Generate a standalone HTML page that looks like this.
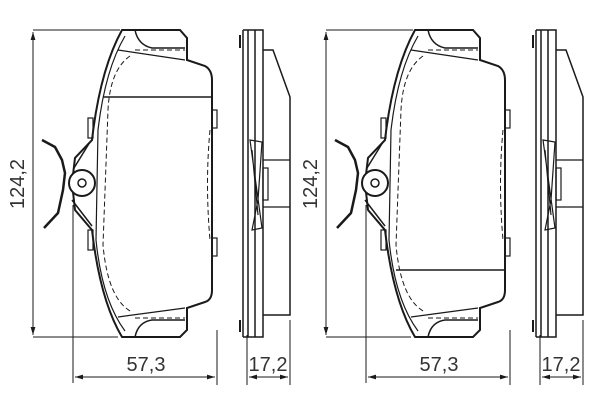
<!DOCTYPE html>
<html><head><style>html,body{margin:0;padding:0;background:#fff;}svg{display:block}</style></head>
<body>
<svg width="600" height="400" viewBox="0 0 600 400" xmlns="http://www.w3.org/2000/svg" fill="none" stroke="#1a1a1a" font-family="Liberation Sans, sans-serif">
<defs>
<marker id="a" viewBox="0 0 10 10" refX="10" refY="5" markerWidth="8" markerHeight="8" orient="auto-start-reverse"><path d="M0,2 L10,5 L0,8z" fill="#1a1a1a" stroke="none"/></marker>
</defs>
<g>
<line x1="33" y1="30" x2="120" y2="30" stroke-width="1"/>
<line x1="33" y1="337" x2="118" y2="337" stroke-width="1"/>
<line x1="33" y1="32" x2="33" y2="335" stroke-width="1" marker-start="url(#a)" marker-end="url(#a)"/>
<text x="0" y="0" transform="translate(24,184) rotate(-90)" text-anchor="middle" font-size="20" fill="#333" stroke="none">124,2</text>
<line x1="73" y1="205" x2="73" y2="383" stroke-width="1"/>
<line x1="217" y1="330" x2="217" y2="385" stroke-width="1"/>
<line x1="75" y1="377" x2="215" y2="377" stroke-width="1" marker-start="url(#a)" marker-end="url(#a)"/>
<text x="146" y="371" text-anchor="middle" font-size="20" fill="#333" stroke="none">57,3</text>
<path d="M122,30 L180,30 L187,38 L187,60 L205,66 Q212,70 212,80 L212,290 Q212,300 205,302 L187,308 L187,330 L180,337 L122,337 Q100,300 92,230 L75,210 L72,183 L75,158 L92,140 Q100,70 122,30Z" stroke-width="2"/>
<path d="M125,36 Q105,70 98,130 L96,240 Q102,300 125,331" stroke-width="1.2"/>
<path d="M118,50 L185,60 M118,317 L185,308" stroke-width="1.2"/>
<path d="M135,30 Q138,45 152,48 L185,48 M135,337 Q138,322 152,320 L185,320" stroke-width="1.5"/>
<path d="M135,50 L185,50 M135,318 L185,318 M130,56 Q110,70 108,110 L103,245 Q108,300 132,312" stroke-width="1" stroke-dasharray="5,3"/>
<line x1="103" y1="97" x2="212" y2="97" stroke-width="1.5"/>
<path d="M210,130 Q205,183 210,240" stroke-width="1" stroke-dasharray="5,3"/>
<rect x="88" y="118" width="5" height="20" stroke-width="1.2"/>
<rect x="88" y="230" width="5" height="20" stroke-width="1.2"/>
<rect x="212" y="110" width="5" height="18" stroke-width="1.2"/>
<rect x="212" y="238" width="5" height="18" stroke-width="1.2"/>
<path d="M90,142 L74,168 M72,200 L92,226" stroke-width="1.5"/>
<circle cx="82" cy="183" r="13" stroke-width="2" fill="#fff"/>
<circle cx="82" cy="183" r="4" stroke-width="1.5"/>
<path d="M42,140 L55,147 L62,160 L65,173 L63,190 L58,213 L44,228" stroke-width="2.5" stroke-linejoin="round"/>
<path d="M243,30 L243,337 M248,30 L248,337 M255,30 L255,337" stroke-width="1.5"/>
<path d="M240,35 L240,48 M240,320 L240,332" stroke-width="2"/>
<path d="M243,30 L263,30 L263,337 L243,337" stroke-width="1.5"/>
<path d="M263,50 L273,50 L290,97 L290,315 L263,315" stroke-width="1.5"/>
<path d="M263,160 L290,160 M263,207 L290,207" stroke-width="1.2"/>
<path d="M250,140 L262,142 L258,200 L252,230 L262,228 Z M252,150 L258,215" stroke-width="1.2"/>
<rect x="263" y="168" width="5" height="32" stroke-width="1.2"/>
<line x1="247" y1="335" x2="247" y2="385" stroke-width="1"/>
<line x1="290" y1="320" x2="290" y2="385" stroke-width="1"/>
<line x1="249" y1="377" x2="288" y2="377" stroke-width="1" marker-start="url(#a)" marker-end="url(#a)"/>
<text x="268" y="371" text-anchor="middle" font-size="20" fill="#333" stroke="none">17,2</text>
</g>
<g transform="translate(293,0)">
<line x1="33" y1="30" x2="120" y2="30" stroke-width="1"/>
<line x1="33" y1="337" x2="118" y2="337" stroke-width="1"/>
<line x1="33" y1="32" x2="33" y2="335" stroke-width="1" marker-start="url(#a)" marker-end="url(#a)"/>
<text x="0" y="0" transform="translate(24,184) rotate(-90)" text-anchor="middle" font-size="20" fill="#333" stroke="none">124,2</text>
<line x1="73" y1="205" x2="73" y2="383" stroke-width="1"/>
<line x1="217" y1="330" x2="217" y2="385" stroke-width="1"/>
<line x1="75" y1="377" x2="215" y2="377" stroke-width="1" marker-start="url(#a)" marker-end="url(#a)"/>
<text x="146" y="371" text-anchor="middle" font-size="20" fill="#333" stroke="none">57,3</text>
<path d="M122,30 L180,30 L187,38 L187,60 L205,66 Q212,70 212,80 L212,290 Q212,300 205,302 L187,308 L187,330 L180,337 L122,337 Q100,300 92,230 L75,210 L72,183 L75,158 L92,140 Q100,70 122,30Z" stroke-width="2"/>
<path d="M125,36 Q105,70 98,130 L96,240 Q102,300 125,331" stroke-width="1.2"/>
<path d="M118,50 L185,60 M118,317 L185,308" stroke-width="1.2"/>
<path d="M135,30 Q138,45 152,48 L185,48 M135,337 Q138,322 152,320 L185,320" stroke-width="1.5"/>
<path d="M135,50 L185,50 M135,318 L185,318 M130,56 Q110,70 108,110 L103,245 Q108,300 132,312" stroke-width="1" stroke-dasharray="5,3"/>
<line x1="103" y1="270" x2="212" y2="270" stroke-width="1.5"/>
<path d="M210,130 Q205,183 210,240" stroke-width="1" stroke-dasharray="5,3"/>
<rect x="88" y="118" width="5" height="20" stroke-width="1.2"/>
<rect x="88" y="230" width="5" height="20" stroke-width="1.2"/>
<rect x="212" y="110" width="5" height="18" stroke-width="1.2"/>
<rect x="212" y="238" width="5" height="18" stroke-width="1.2"/>
<path d="M90,142 L74,168 M72,200 L92,226" stroke-width="1.5"/>
<circle cx="82" cy="183" r="13" stroke-width="2" fill="#fff"/>
<circle cx="82" cy="183" r="4" stroke-width="1.5"/>
<path d="M42,140 L55,147 L62,160 L65,173 L63,190 L58,213 L44,228" stroke-width="2.5" stroke-linejoin="round"/>
<path d="M243,30 L243,337 M248,30 L248,337 M255,30 L255,337" stroke-width="1.5"/>
<path d="M240,35 L240,48 M240,320 L240,332" stroke-width="2"/>
<path d="M243,30 L263,30 L263,337 L243,337" stroke-width="1.5"/>
<path d="M263,50 L273,50 L290,97 L290,315 L263,315" stroke-width="1.5"/>
<path d="M263,160 L290,160 M263,207 L290,207" stroke-width="1.2"/>
<path d="M250,140 L262,142 L258,200 L252,230 L262,228 Z M252,150 L258,215" stroke-width="1.2"/>
<rect x="263" y="168" width="5" height="32" stroke-width="1.2"/>
<line x1="247" y1="335" x2="247" y2="385" stroke-width="1"/>
<line x1="290" y1="320" x2="290" y2="385" stroke-width="1"/>
<line x1="249" y1="377" x2="288" y2="377" stroke-width="1" marker-start="url(#a)" marker-end="url(#a)"/>
<text x="268" y="371" text-anchor="middle" font-size="20" fill="#333" stroke="none">17,2</text>
</g>
</svg>
</body></html>
